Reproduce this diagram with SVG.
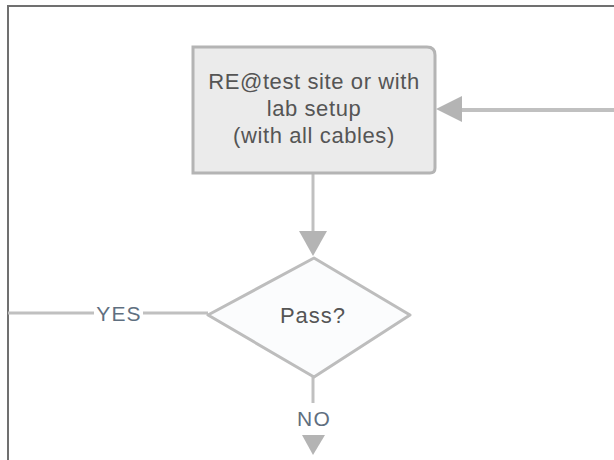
<svg xmlns="http://www.w3.org/2000/svg" width="614" height="460" viewBox="0 0 614 460">
  <style>
    .frame { fill: none; stroke: #707070; stroke-width: 2; }
    .shape-box { fill: #ebebeb; stroke: #b4b4b4; stroke-width: 3; }
    .shape-dia { fill: #fbfcfd; stroke: #bdbdbd; stroke-width: 3; stroke-linejoin: round; }
    .edge { fill: none; stroke: #c0c0c0; stroke-width: 3; }
    .label { font-family: "Liberation Sans", Arial, sans-serif; font-size: 22px; letter-spacing: 0.6px; fill: #555555; text-anchor: middle; }
    .edge-label { font-family: "Liberation Sans", Arial, sans-serif; font-size: 21px; letter-spacing: 1.2px; fill: #5f6f80; text-anchor: middle; }
  </style>
  <rect width="614" height="460" fill="#ffffff"/>
  <!-- page frame -->
  <path class="frame" d="M8,460 L8,6 L614,6"/>

  <g id="connectors">
    <!-- box to decision -->
    <line class="edge" x1="313" y1="173" x2="313" y2="232"/>
    <polygon points="299,231 327,231 313,256" fill="#b4b4b4"/>
    <!-- incoming from the right -->
    <line class="edge" x1="614" y1="110" x2="460" y2="110" style="stroke-width:4"/>
    <polygon points="462,96 462,122 436,109" fill="#b4b4b4"/>
    <!-- YES branch -->
    <line class="edge" x1="8" y1="313" x2="94" y2="313"/>
    <line class="edge" x1="143" y1="313" x2="208" y2="313"/>
    <text class="edge-label" x="119" y="321">YES</text>
    <!-- NO branch -->
    <line class="edge" x1="313" y1="377" x2="313" y2="403"/>
    <text class="edge-label" x="314" y="426">NO</text>
    <polygon points="302,435 325,435 313,455" fill="#b4b4b4"/>
  </g>

  <g id="node-test">
    <path class="shape-box" d="M193,47 L427,47 Q435,47 435,55 L435,168 Q435,173 430,173 L193,173 Z"/>
    <text class="label" x="314" y="89">RE@test site or with</text>
    <text class="label" x="314" y="116">lab setup</text>
    <text class="label" x="314" y="143">(with all cables)</text>
  </g>

  <g id="node-pass">
    <path class="shape-dia" d="M314,258 L410,315 L314,377 L208,315 Z"/>
    <text class="label" x="313" y="323" style="letter-spacing:1px">Pass?</text>
  </g>
</svg>
